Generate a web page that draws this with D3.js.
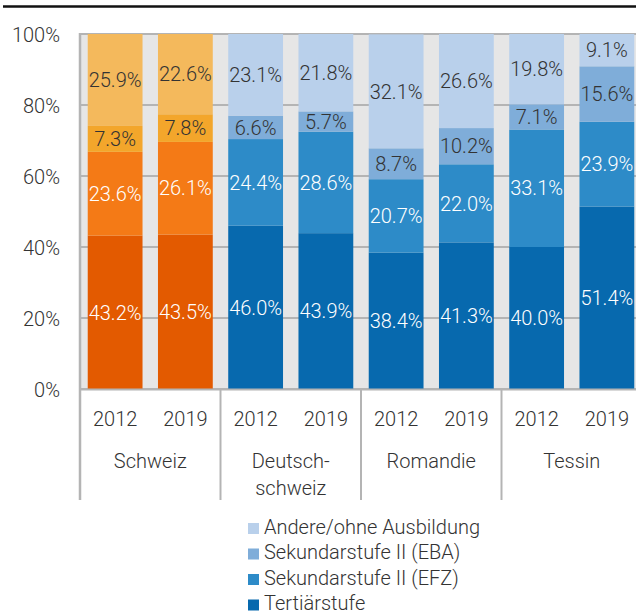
<!DOCTYPE html>
<html>
<head>
<meta charset="utf-8">
<script src="https://cdn.jsdelivr.net/npm/d3@7"></script>
<style>
  body { margin: 0; background: #fff; }
  svg { display: block; font-family: Roboto, "Noto Sans", sans-serif; font-weight: 300; }
</style>
</head>
<body>
<svg id="chart" width="636" height="614"></svg>
<script>
// ---- Data ----
const regions = ["Schweiz", "Deutschschweiz", "Romandie", "Tessin"];
const regionLabels = [["Schweiz"], ["Deutsch-", "schweiz"], ["Romandie"], ["Tessin"]];
const years = ["2012", "2019"];
const seriesNames = ["Tertiärstufe", "Sekundarstufe II (EFZ)", "Sekundarstufe II (EBA)", "Andere/ohne Ausbildung"];
// values per bar, order: Schweiz 2012, 2019, Deutschschweiz 2012, 2019, Romandie 2012, 2019, Tessin 2012, 2019
const tertiaer = [43.2, 43.5, 46.0, 43.9, 38.4, 41.3, 40.0, 51.4];
const efz      = [23.6, 26.1, 24.4, 28.6, 20.7, 22.0, 33.1, 23.9];
const eba      = [7.3, 7.8, 6.6, 5.7, 8.7, 10.2, 7.1, 15.6];
const andere   = [25.9, 22.6, 23.1, 21.8, 32.1, 26.6, 19.8, 9.1];
const yTicks = [0, 20, 40, 60, 80, 100];

const orangeColors = ["#e35a00", "#f47a16", "#f3a62b", "#f4b95c"];
const blueColors   = ["#0769ae", "#2d8bc8", "#7fadd9", "#b9d0eb"];
const labelColors  = ["#ffffff", "#ffffff", "#333333", "#333333"];

(function () {
// ---- Build ----
const seriesVals = [tertiaer, efz, eba, andere];
const bars = [];
regions.forEach((r, ri) => years.forEach((yr, yi) => {
  const i = ri * 2 + yi;
  let cum = 0;
  const segs = seriesVals.map((arr, si) => {
    const s = { si, v: arr[i], y0: cum, y1: Math.min(100, cum + arr[i]) };
    cum += arr[i];
    return s;
  });
  bars.push({ key: r + "|" + yr, region: r, ri, year: yr, segs });
}));

const svg = d3.select("#chart");
const pLeft = 80, pRight = 642, pTop = 34, pBottom = 389;

const x = d3.scaleBand().domain(bars.map(b => b.key)).range([pLeft, pRight])
  .paddingInner(0.22).paddingOuter(0.11);
const xg = d3.scaleBand().domain(regions).range([pLeft, pRight]);
const y = d3.scaleLinear().domain([0, 100]).range([pBottom, pTop]);

// top black rule
svg.append("line").attr("x1", 3).attr("x2", 636).attr("y1", 6.5).attr("y2", 6.5)
  .attr("stroke", "#111").attr("stroke-width", 2.5);

// plot background
svg.append("rect").attr("x", pLeft).attr("y", pTop).attr("width", pRight - pLeft).attr("height", pBottom - pTop)
  .attr("fill", "#e6e6e6");

// gridlines
svg.append("g").selectAll("line").data(yTicks).join("line")
  .attr("x1", pLeft).attr("x2", pRight)
  .attr("y1", d => y(d)).attr("y2", d => y(d))
  .attr("stroke", "#b4b4b4").attr("stroke-width", 2);

// bars
const barG = svg.append("g").selectAll("g").data(bars).join("g")
  .attr("transform", d => `translate(${x(d.key)},0)`);
barG.selectAll("rect").data(d => d.segs.map(s => ({ ...s, ri: d.ri }))).join("rect")
  .attr("x", 0).attr("width", x.bandwidth())
  .attr("y", s => y(s.y1)).attr("height", s => y(s.y0) - y(s.y1))
  .attr("fill", s => (s.ri === 0 ? orangeColors : blueColors)[s.si]);
barG.selectAll("text").data(d => d.segs).join("text")
  .attr("x", x.bandwidth() / 2)
  .attr("y", s => y((s.y0 + s.y1) / 2))
  .attr("dy", "0.36em")
  .attr("text-anchor", "middle")
  .attr("font-size", 20)
  .attr("fill", s => labelColors[s.si])
  .text(s => s.v.toFixed(1) + "%");

// left axis line
svg.append("line").attr("x1", pLeft).attr("x2", pLeft).attr("y1", pTop - 1).attr("y2", 500)
  .attr("stroke", "#b4b4b4").attr("stroke-width", 2.5);
// bottom axis line
svg.append("line").attr("x1", pLeft).attr("x2", pRight).attr("y1", pBottom + 0.5).attr("y2", pBottom + 0.5)
  .attr("stroke", "#b4b4b4").attr("stroke-width", 2);
// group separators
svg.append("g").selectAll("line").data(regions.slice(1)).join("line")
  .attr("x1", d => xg(d)).attr("x2", d => xg(d))
  .attr("y1", pBottom).attr("y2", 500)
  .attr("stroke", "#b4b4b4").attr("stroke-width", 2);

// y axis
const yAxis = svg.append("g").attr("transform", `translate(${pLeft - 20},0)`)
  .call(d3.axisLeft(y).tickValues(yTicks).tickSize(0).tickPadding(0).tickFormat(d => d + "%"));
yAxis.attr("font-family", null).attr("font-size", null);
yAxis.select(".domain").remove();
yAxis.selectAll("text").attr("font-size", 20).attr("fill", "#333").attr("dy", "0.36em");

// x axis (years)
const xAxis = svg.append("g").attr("transform", `translate(0,${pBottom})`)
  .call(d3.axisBottom(x).tickSize(0).tickPadding(0).tickFormat(k => k.split("|")[1]));
xAxis.attr("font-family", null).attr("font-size", null);
xAxis.select(".domain").remove();
xAxis.selectAll("text").attr("font-size", 20).attr("fill", "#333")
  .attr("dy", null).attr("y", 37);

// group labels
const gl = svg.append("g").selectAll("text").data(regions).join("text")
  .attr("x", d => xg(d) + xg.bandwidth() / 2)
  .attr("y", 468)
  .attr("text-anchor", "middle")
  .attr("font-size", 20).attr("fill", "#333");
gl.selectAll("tspan").data((d, i) => regionLabels[i]).join("tspan")
  .attr("x", function() { return d3.select(this.parentNode).attr("x"); })
  .attr("dy", (d, i) => i === 0 ? 0 : 27)
  .text(d => d);

// legend
const legendItems = [3, 2, 1, 0];
const lg = svg.append("g").selectAll("g").data(legendItems).join("g")
  .attr("transform", (d, i) => `translate(248,${523 + i * 25.5})`);
lg.append("rect").attr("width", 11).attr("height", 11).attr("fill", d => blueColors[d]);
lg.append("text").attr("x", 16).attr("y", 10.5).attr("font-size", 20).attr("fill", "#333")
  .text(d => seriesNames[d]);
})();
</script>
</body>
</html>
